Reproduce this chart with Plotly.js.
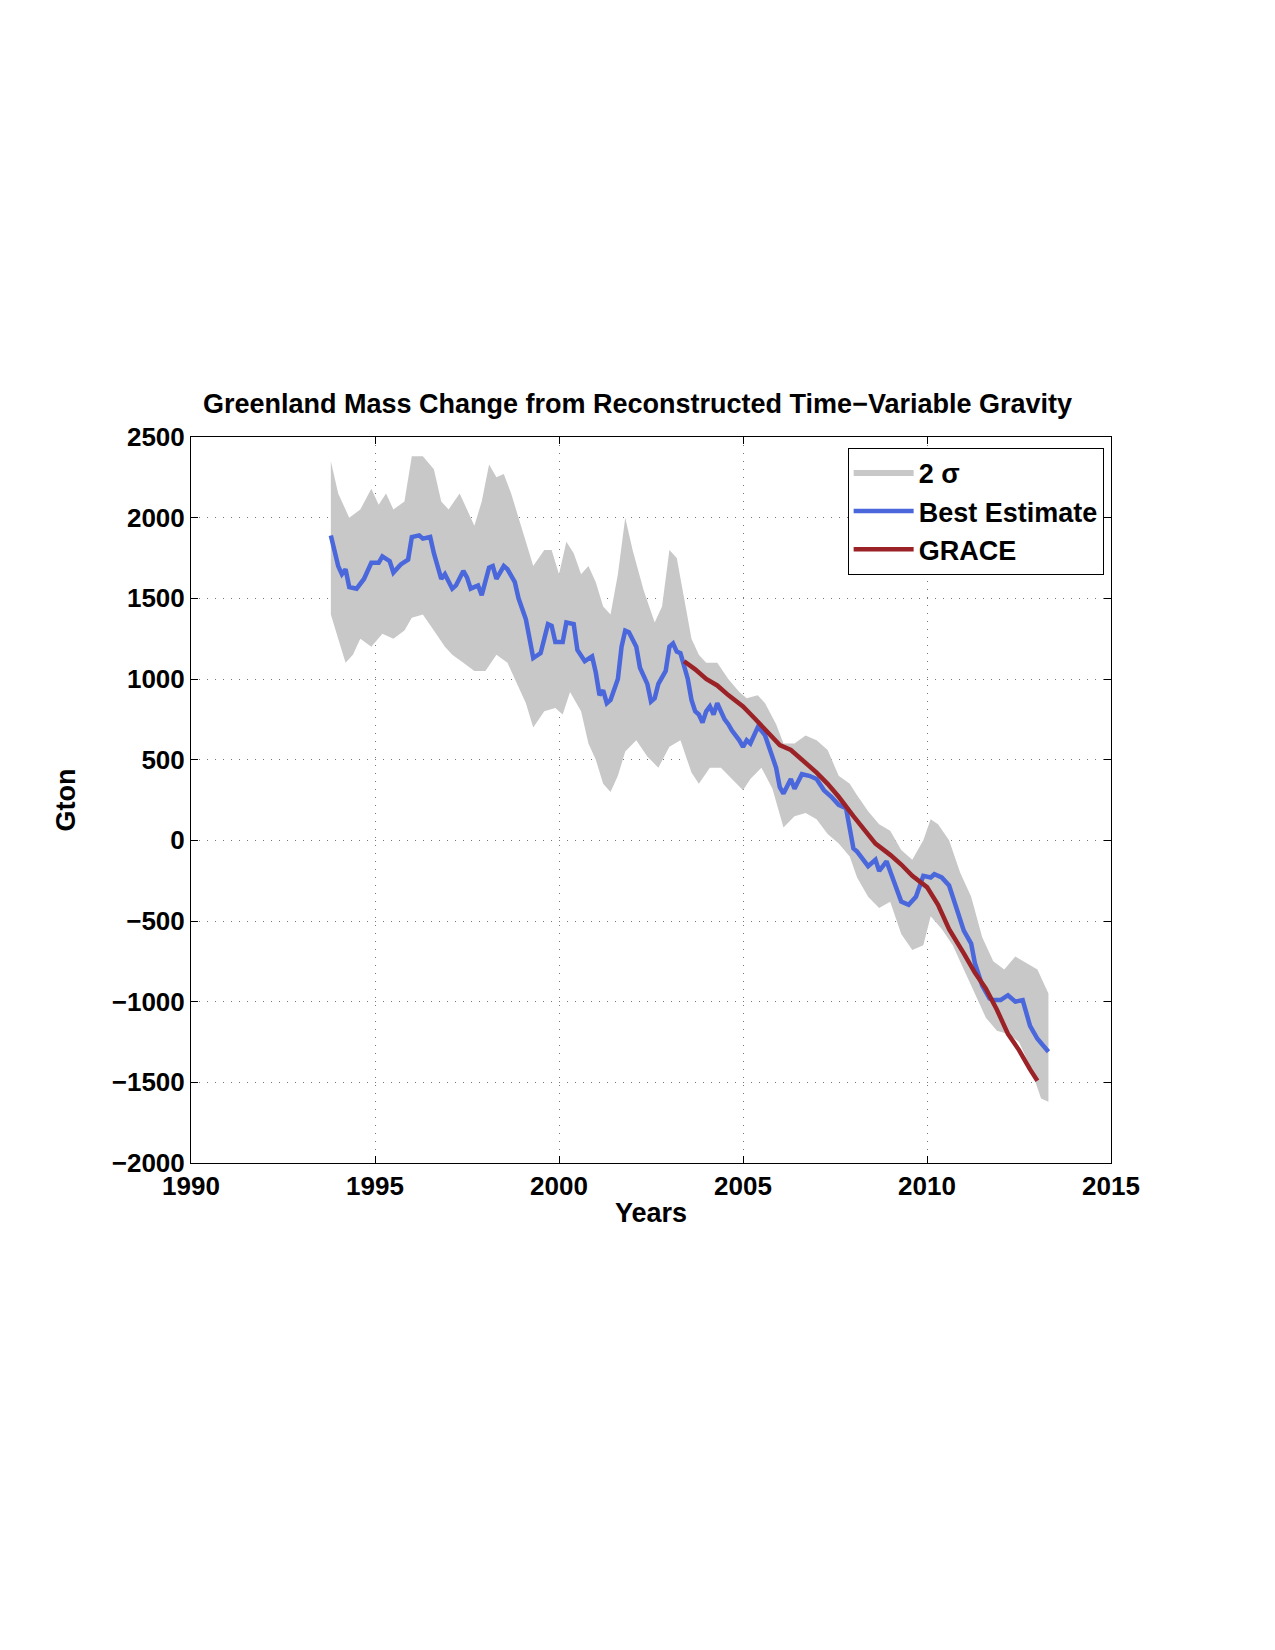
<!DOCTYPE html>
<html>
<head>
<meta charset="utf-8">
<script src="https://cdn.plot.ly/plotly-3.0.1.min.js"></script>
<style>body{margin:0;background:#fff}</style>
</head>
<body>
<div id="chart"></div>
<script>
// Best estimate (reconstruction)
const bestYears = [1993.8,1994.0,1994.1,1994.2,1994.3,1994.5,1994.7,1994.9,1995.1,1995.2,1995.4,1995.5,1995.7,1995.9,1996.0,1996.2,1996.3,1996.5,1996.6,1996.8,1996.9,1997.1,1997.2,1997.4,1997.5,1997.6,1997.8,1997.9,1998.1,1998.2,1998.3,1998.5,1998.6,1998.8,1998.9,1999.1,1999.2,1999.3,1999.5,1999.7,1999.8,1999.9,2000.1,2000.2,2000.4,2000.5,2000.7,2000.9,2001.0,2001.1,2001.2,2001.3,2001.4,2001.6,2001.7,2001.8,2001.9,2002.1,2002.2,2002.4,2002.5,2002.6,2002.7,2002.9,2003.0,2003.1,2003.2,2003.3,2003.5,2003.6,2003.7,2003.8,2003.9,2004.0,2004.1,2004.2,2004.3,2004.5,2004.6,2004.7,2004.9,2005.0,2005.1,2005.2,2005.4,2005.5,2005.6,2005.7,2005.9,2006.0,2006.1,2006.3,2006.4,2006.6,2006.8,2007.0,2007.2,2007.4,2007.6,2007.8,2007.9,2008.0,2008.1,2008.3,2008.4,2008.6,2008.7,2008.9,2009.0,2009.2,2009.3,2009.5,2009.7,2009.9,2010.1,2010.2,2010.4,2010.6,2010.8,2011.0,2011.2,2011.3,2011.5,2011.7,2011.8,2012.0,2012.2,2012.4,2012.6,2012.8,2013.0,2013.3];
const bestValues = [1890,1700,1650,1680,1570,1560,1620,1720,1720,1760,1730,1660,1710,1740,1880,1890,1870,1880,1780,1620,1650,1560,1580,1670,1630,1560,1580,1520,1690,1700,1620,1700,1680,1600,1500,1370,1250,1130,1160,1340,1330,1230,1230,1350,1340,1180,1110,1140,1040,900,930,850,870,1000,1200,1300,1290,1200,1070,970,860,880,970,1050,1200,1220,1170,1160,1000,870,800,780,730,800,830,780,850,750,720,680,620,580,620,600,700,680,650,580,450,330,290,380,320,410,400,380,310,270,220,200,80,-50,-70,-130,-160,-120,-190,-130,-190,-320,-380,-400,-350,-220,-230,-210,-230,-280,-420,-560,-640,-760,-900,-980,-990,-990,-960,-1000,-990,-1150,-1230,-1310];

// GRACE
const graceYears = [2003.4,2003.7,2004.0,2004.3,2004.6,2005.0,2005.3,2005.6,2006.0,2006.3,2006.6,2007.0,2007.3,2007.6,2008.0,2008.3,2008.6,2009.0,2009.3,2009.6,2010.0,2010.3,2010.6,2011.0,2011.3,2011.6,2011.9,2012.2,2012.5,2012.8,2013.0];
const graceValues = [1110,1060,1000,960,900,830,760,690,590,560,500,420,350,270,150,70,-20,-90,-150,-220,-290,-400,-550,-700,-820,-920,-1050,-1200,-1300,-1420,-1490];

// 2 sigma envelope
const upperYears = [1993.8,1994.0,1994.3,1994.6,1994.9,1995.1,1995.3,1995.5,1995.8,1996.0,1996.3,1996.6,1996.8,1997.0,1997.3,1997.5,1997.7,1997.9,1998.1,1998.3,1998.5,1998.7,1998.9,1999.1,1999.3,1999.6,1999.8,2000.0,2000.2,2000.4,2000.6,2000.8,2001.0,2001.2,2001.4,2001.6,2001.8,2002.0,2002.3,2002.6,2002.8,2003.0,2003.2,2003.4,2003.6,2003.8,2004.0,2004.3,2004.6,2004.9,2005.1,2005.4,2005.6,2005.9,2006.1,2006.4,2006.7,2007.0,2007.3,2007.6,2007.9,2008.1,2008.4,2008.7,2009.0,2009.3,2009.6,2009.9,2010.1,2010.3,2010.6,2010.9,2011.2,2011.5,2011.8,2012.1,2012.4,2012.7,2013.0,2013.3];
const upperValues = [2350,2150,2000,2050,2180,2080,2150,2050,2100,2380,2380,2300,2100,2050,2150,2050,1950,2100,2330,2250,2270,2150,2000,1850,1700,1800,1800,1650,1850,1780,1650,1700,1600,1450,1400,1650,2000,1800,1550,1350,1450,1800,1750,1500,1250,1150,1100,1100,1000,920,880,900,850,720,600,600,650,620,560,400,350,280,180,100,60,-60,-120,0,130,100,0,-200,-350,-600,-750,-800,-720,-760,-800,-950];
const lowerYears = [1993.8,1994.0,1994.2,1994.4,1994.6,1994.9,1995.2,1995.5,1995.8,1996.0,1996.3,1996.6,1996.9,1997.1,1997.4,1997.7,1998.0,1998.3,1998.6,1998.9,1999.1,1999.3,1999.6,1999.9,2000.1,2000.3,2000.6,2000.8,2001.0,2001.2,2001.4,2001.6,2001.8,2002.1,2002.4,2002.7,2003.0,2003.3,2003.6,2003.8,2004.1,2004.4,2004.7,2005.0,2005.2,2005.5,2005.8,2006.1,2006.4,2006.7,2007.0,2007.3,2007.6,2007.9,2008.1,2008.4,2008.7,2009.0,2009.3,2009.6,2009.9,2010.1,2010.4,2010.7,2011.0,2011.3,2011.6,2011.9,2012.2,2012.5,2012.8,2013.1,2013.3];
const lowerValues = [1400,1250,1100,1150,1250,1200,1280,1250,1300,1380,1400,1300,1200,1150,1100,1050,1050,1150,1100,950,850,700,800,820,780,920,800,600,500,350,300,400,550,620,520,450,580,620,420,350,450,450,380,310,380,450,320,80,150,170,130,40,-20,-100,-230,-350,-420,-380,-580,-680,-650,-470,-550,-650,-800,-950,-1100,-1180,-1200,-1250,-1400,-1600,-1620];

const yTicks = [-2000,-1500,-1000,-500,0,500,1000,1500,2000,2500];
const yTickText = yTicks.map(v => v < 0 ? '\u2212' + Math.abs(v) : String(v));

const band = {
  x: upperYears.concat(lowerYears.slice().reverse()),
  y: upperValues.concat(lowerValues.slice().reverse()),
  fill: 'toself', fillcolor: '#c8c8c8', mode: 'none',
  name: '2 \u03c3', hoverinfo: 'skip'
};
const best = {x: bestYears, y: bestValues, mode: 'lines', name: 'Best Estimate',
  line: {color: '#4a67dc', width: 4.5}};
const grace = {x: graceYears, y: graceValues, mode: 'lines', name: 'GRACE',
  line: {color: '#9b2226', width: 4.5}};

const axisCommon = {
  showline: true, mirror: 'ticks', linecolor: '#000', linewidth: 1,
  ticks: 'inside', ticklen: 7, tickcolor: '#000',
  showgrid: true, gridcolor: '#777', griddash: '1px,7px', gridwidth: 1,
  zeroline: false, tickfont: {size: 26, weight: 'bold', color: '#000'}
};

const layout = {
  width: 1275, height: 1650,
  margin: {l: 191, r: 164, t: 437, b: 487},
  paper_bgcolor: '#fff', plot_bgcolor: '#fff',
  font: {family: 'Liberation Sans, Arial, sans-serif', color: '#000'},
  title: {text: 'Greenland Mass Change from Reconstructed Time\u2212Variable Gravity',
    font: {size: 27, weight: 'bold'}, x: 0.5, xanchor: 'center', y: 1 - 404/1650, yanchor: 'middle'},
  xaxis: Object.assign({}, axisCommon, {range: [1990, 2015], tickvals: [1990,1995,2000,2005,2010,2015],
    title: {text: 'Years', font: {size: 27, weight: 'bold'}, standoff: 2}}),
  yaxis: Object.assign({}, axisCommon, {range: [-2000, 2500], tickvals: yTicks, ticktext: yTickText,
    title: {text: 'Gton', font: {size: 27, weight: 'bold'}, standoff: 28}}),
  showlegend: true,
  legend: {x: 0.992, xanchor: 'right', y: 0.985, yanchor: 'top', bgcolor: '#fff',
    bordercolor: '#000', borderwidth: 1, font: {size: 27, weight: 'bold'}, itemwidth: 60}
};

Plotly.newPlot('chart', [band, best, grace], layout, {displayModeBar: false});
</script>
</body>
</html>
